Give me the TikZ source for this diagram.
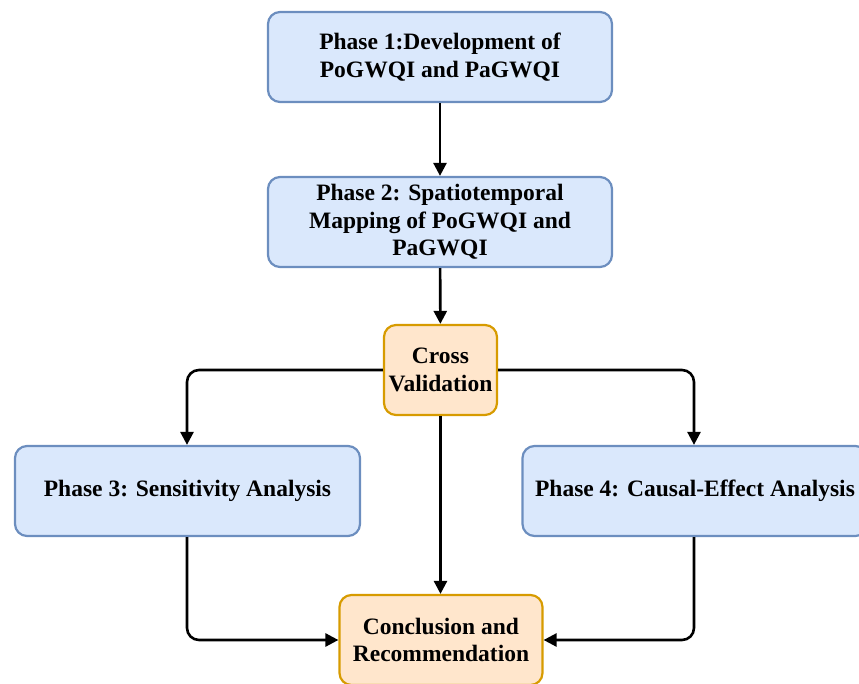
\documentclass[tikz,border=0pt]{standalone}
\usepackage{fontspec}
\setmainfont{Liberation Serif}
\usetikzlibrary{arrows.meta}
\definecolor{bfill}{HTML}{DAE8FC}
\definecolor{bdraw}{HTML}{6C8EBF}
\definecolor{ofill}{HTML}{FFE6CC}
\definecolor{odraw}{HTML}{D79B00}
\begin{document}
\begin{tikzpicture}[x=1pt,y=-1pt,
  base/.style={rounded corners=12pt,line width=2.2pt,align=center,
    font=\fontsize{23.5}{27.5}\selectfont\bfseries,inner sep=0pt},
  bluebox/.style={base,fill=bfill,draw=bdraw},
  orangebox/.style={base,fill=ofill,draw=odraw},
  conn/.style={line width=2.6pt,rounded corners=12pt,-{Triangle[length=13pt,width=13pt]}}]
\useasboundingbox (0,0) rectangle (859,684);
\begin{scope}
\clip (0,0) rectangle (859,684);
\node[bluebox,minimum width=344pt,minimum height=90pt] (p1) at (440,57) {Phase 1:Development of\\PoGWQI and PaGWQI};
\node[bluebox,minimum width=344pt,minimum height=90pt] (p2) at (440,222) {Phase 2: Spatiotemporal\\Mapping of PoGWQI and\\PaGWQI};
\node[orangebox,minimum width=113pt,minimum height=90pt] (cv) at (440.5,370) {Cross\\Validation};
\node[bluebox,minimum width=345pt,minimum height=90pt] (p3) at (187.5,491) {Phase 3: Sensitivity Analysis};
\node[bluebox,minimum width=345pt,minimum height=90pt] (p4) at (695,491) {Phase 4: Causal-Effect Analysis};
\node[orangebox,minimum width=203pt,minimum height=90pt] (cr) at (441,640) {Conclusion and\\Recommendation};
\draw[conn] (p1) -- (p2);
\draw[conn] (p2) -- (cv);
\draw[conn] (cv.west) -| (p3.north -| 187,0);
\draw[conn] (cv.east) -| (p4.north -| 694,0);
\draw[conn] (cv.south -| 440.5,0) -- (cr.north -| 440.5,0);
\draw[conn] (p3.south -| 187,0) |- (cr.west);
\draw[conn] (p4.south -| 694,0) |- (cr.east);
\end{scope}
\end{tikzpicture}
\end{document}
